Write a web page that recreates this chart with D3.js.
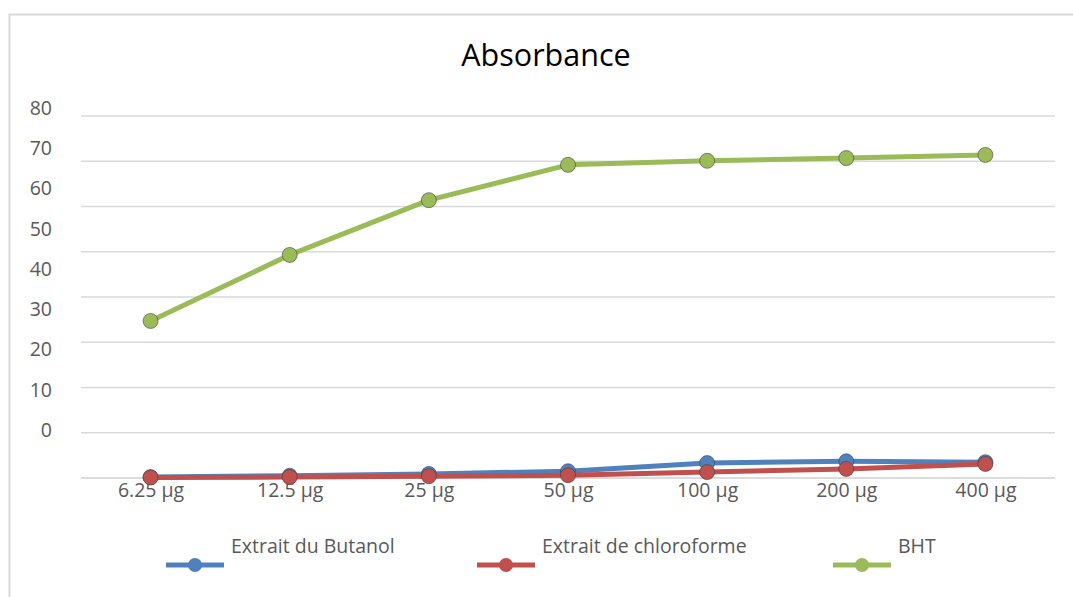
<!DOCTYPE html>
<html><head><meta charset="utf-8">
<script src="https://cdn.jsdelivr.net/npm/d3@7"></script>
<style>body{margin:0;background:#fff;} text{font-family:"Open Sans","Noto Sans",sans-serif;}</style>
</head><body>
<svg id="c" width="1073" height="597"></svg>
<script>
const categories = ["6.25 µg","12.5 µg","25 µg","50 µg","100 µg","200 µg","400 µg"];
const butanol = [0.2, 0.5, 0.9, 1.5, 3.3, 3.7, 3.5];
const chloroforme = [0.1, 0.2, 0.4, 0.6, 1.3, 2.0, 3.1];
const bht = [34.7, 49.3, 61.4, 69.2, 70.1, 70.7, 71.4];
const seriesNames = ["Extrait du Butanol","Extrait de chloroforme","BHT"];
const gridTicks = [0,10,20,30,40,50,60,70,80];
const yTickLabels = [0,10,20,30,40,50,60,70,80];
const title = "Absorbance";

const colors = ["#4f81bd","#c0504d","#9bbb59"];
const svg = d3.select("#c");

// frame
svg.append("path").attr("d","M9.5,597 V14.5 H1073").attr("fill","none").attr("stroke","#d9d9d9").attr("stroke-width",2);

const x = d3.scalePoint().domain(categories).range([81,1055]).padding(0.5);
const y = d3.scaleLinear().domain([0,80]).range([478,116]);
// tick labels as rendered in reference (offset from gridlines)
const yLab = d3.scaleLinear().domain([0,80]).range([430,108]);

// gridlines
svg.append("g").selectAll("line").data(gridTicks).join("line")
  .attr("x1",81).attr("x2",1055).attr("y1",d=>y(d)).attr("y2",d=>y(d))
  .attr("stroke",d=>d===0?"#d0d0d0":"#d9d9d9").attr("stroke-width",1.5);

// y labels
const ya = svg.append("g").attr("transform","translate(52,0)")
  .call(d3.axisLeft(yLab).tickValues(yTickLabels).tickSize(0).tickPadding(0));
ya.select(".domain").remove();
ya.selectAll("text").attr("font-size",19.5).attr("fill","#595959").attr("font-family","Open Sans");

// x labels
const xa = svg.append("g").attr("transform","translate(0,479)")
  .call(d3.axisBottom(x).tickSize(0).tickPadding(4));
xa.select(".domain").remove();
xa.selectAll("text").attr("font-size",19.5).attr("fill","#595959").attr("font-family","Open Sans");

// title
svg.append("text").attr("x",546).attr("y",66).attr("text-anchor","middle")
  .attr("font-size",30.5).attr("fill","#000").text(title);

const all = [butanol, chloroforme, bht];
const line = d3.line().x((d,i)=>x(categories[i])).y(d=>y(d));
all.forEach((vals,k)=>{
  const g = svg.append("g");
  g.append("path").datum(vals).attr("d",line).attr("fill","none")
    .attr("stroke",colors[k]).attr("stroke-width",5).attr("stroke-linejoin","round");
  g.selectAll("circle").data(vals).join("circle")
    .attr("cx",(d,i)=>x(categories[i])).attr("cy",d=>y(d)).attr("r",7.5)
    .attr("fill",colors[k]).attr("stroke","#3a3a3a").attr("stroke-width",0.8).attr("stroke-opacity",0.7);
});

// legend
const legX = [166, 477, 833];
seriesNames.forEach((n,k)=>{
  const g = svg.append("g").attr("transform",`translate(${legX[k]},0)`);
  g.append("line").attr("x1",0).attr("x2",58).attr("y1",565).attr("y2",565)
    .attr("stroke",colors[k]).attr("stroke-width",5);
  g.append("circle").attr("cx",29).attr("cy",565).attr("r",7).attr("fill",colors[k]);
  g.append("text").attr("x",65).attr("y",553).attr("font-size",19.5).attr("fill","#595959").text(n);
});
</script>
</body></html>
